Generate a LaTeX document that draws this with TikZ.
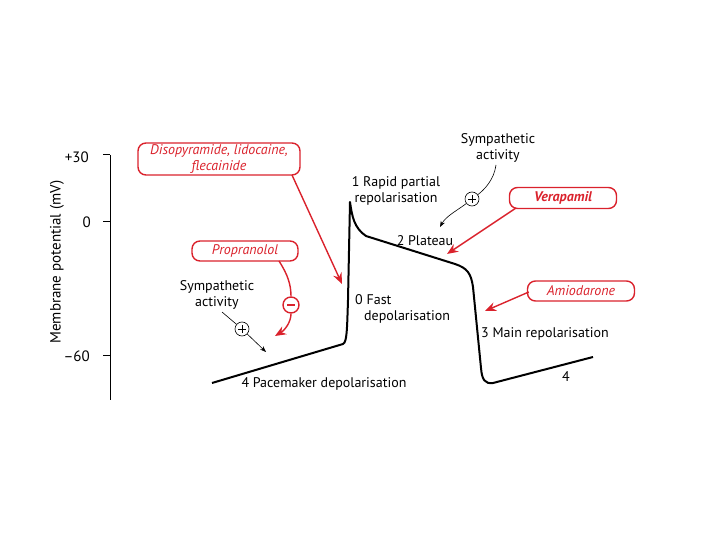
\documentclass[tikz,border=0pt]{standalone}
\usepackage{fontspec}
\setmainfont{PT Sans}
\usetikzlibrary{arrows.meta}
\definecolor{drugred}{RGB}{218,34,44}
\tikzset{
  lbl/.style={font=\fontsize{14}{15.5}\selectfont, inner sep=0, align=center},
  axlbl/.style={font=\fontsize{15}{16}\selectfont, inner sep=0},
  drug/.style={draw=drugred, line width=1.4pt, rounded corners=8pt, text=drugred, font=\fontsize{14}{15.5}\selectfont\itshape, align=center, inner sep=0},
  redarrow/.style={draw=drugred, line width=1.4pt, -{Stealth[length=11pt,width=9pt]}},
  blkarrow/.style={draw=black, line width=0.6pt, -{Stealth[length=6pt,width=4.5pt]}},
  blkline/.style={draw=black, line width=0.6pt},
  pluscirc/.style={circle, draw, line width=0.6pt, minimum size=14pt, inner sep=0,
     path picture={\draw[line width=0.6pt] ([xshift=-4pt]path picture bounding box.center) -- ([xshift=4pt]path picture bounding box.center)
                   ([yshift=-4pt]path picture bounding box.center) -- ([yshift=4pt]path picture bounding box.center);}},
  minuscirc/.style={circle, draw=drugred, line width=1.4pt, minimum size=16pt, inner sep=0,
     path picture={\draw[drugred, line width=1.2pt] ([xshift=-4pt]path picture bounding box.center) -- ([xshift=4pt]path picture bounding box.center);}},
  apcurve/.style={line width=2pt, line join=round}
}
\begin{document}
\begin{tikzpicture}[x=1pt,y=-1pt]
\useasboundingbox (0,0) rectangle (720,540);
% axis
\draw[line width=1pt] (110,155) coordinate (axtop) -- (110,400) coordinate (axbot);
\draw[line width=1pt] (103,155) -- (110,155);
\draw[line width=1pt] (103,222) -- (110,222);
\draw[line width=1pt] (103,355) -- (110,355);
\node[axlbl, anchor=east] (t30) at (89,157) {+30};
\node[axlbl, anchor=east] (t0) at (91,222) {0};
\node[axlbl, anchor=east] (t60) at (90,356) {–60};
\node[axlbl, rotate=90] (ylab) at (57,262) {Membrane potential (mV)};
% action potential
\draw[apcurve] (212,383) -- (343,344) .. controls (347,342) and (347,330) .. (348,300)
  -- (350,202) .. controls (352,216) and (354,228) .. (366,236)
  -- (455,264) .. controls (467,268) and (471,273) .. (473,287)
  -- (481,368) .. controls (482,380) and (485,384) .. (493,383)
  -- (593,357);
% phase labels
\node[lbl] (p1) at (396,191) {1 Rapid partial\\repolarisation};
\node[lbl] (p2) at (425,241) {2 Plateau};
\node[lbl, align=left, anchor=west] (p0) at (355,309) {0 Fast\\\hspace*{9pt}depolarisation};
\node[lbl, anchor=west] (p3) at (481,334) {3 Main repolarisation};
\node[lbl] (p4a) at (324,384) {4 Pacemaker depolarisation};
\node[lbl] (p4b) at (566,377) {4};
% sympathetic top
\node[lbl] (sym1) at (498,148) {Sympathetic\\activity};
\node[pluscirc] (plus1) at (472,199) {};
\coordinate (tip1) at (440,227);
\draw[blkline] (496,165) .. controls (494,180) and (484,190) .. (plus1);
\draw[blkarrow] (plus1) .. controls (458,210) and (446,216) .. (tip1);
% sympathetic left
\node[lbl] (sym2) at (217,295) {Sympathetic\\activity};
\node[pluscirc] (plus2) at (242,329) {};
\coordinate (tip2) at (266,352);
\draw[blkline] (222,312) -- (plus2);
\draw[blkarrow] (plus2) -- (tip2);
% drugs
\node[drug, minimum width=162pt, minimum height=32pt] (diso) at (219,159) {Disopyramide, lidocaine,\\flecainide};
\coordinate (dtip) at (342,284);
\draw[redarrow] (292,175) -- (dtip);
\node[drug, minimum width=106pt, minimum height=20pt] (prop) at (245,251) {Propranolol};
\node[minuscirc] (minus) at (291,305) {};
\coordinate (ptip) at (275,336);
\draw[drugred, line width=1.4pt] (279,261) .. controls (288,275) and (291,285) .. (minus.north);
\draw[redarrow] (minus.south) .. controls (291,322) and (285,330) .. (ptip);
\node[drug, minimum width=107pt, minimum height=21pt, font=\fontsize{14}{15.5}\selectfont\itshape\bfseries] (vera) at (563,198) {Verapamil};
\coordinate (vtip) at (447,254);
\draw[redarrow] (516,208) -- (vtip);
\node[drug, minimum width=107pt, minimum height=20pt] (amio) at (581,291) {Amiodarone};
\coordinate (atip) at (485,311);
\draw[redarrow] (amio.west) ++(2,1) -- (atip);
\end{tikzpicture}
\end{document}
